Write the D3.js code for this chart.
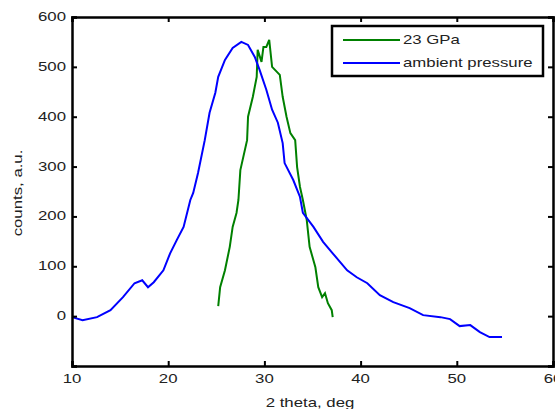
<!DOCTYPE html>
<html><head><meta charset="utf-8">
<script src="https://cdn.jsdelivr.net/npm/d3@7"></script>
<style>body{margin:0;background:#fff}svg{display:block}text{font-family:"Liberation Sans",Arial,sans-serif;fill:#222}</style>
</head><body><svg id="c" width="555" height="409"></svg>
<script>
const xTicks = [10,20,30,40,50,60];
const yTicks = [0,100,200,300,400,500,600];
const seriesNames = ["23 GPa","ambient pressure"];
const ambientX = [10,11.1,12.6,14,15.3,16.5,17.3,17.9,18.5,19.5,20.2,20.9,21.6,22.3,22.6,23.1,23.8,24.3,24.9,25.2,25.9,26.7,27.6,28.3,29.0,29.5,30.2,30.8,31.4,31.9,32.1,33.0,33.7,34.0,35.1,36.1,37.1,38.6,39.6,40.7,42.0,43.4,45.1,46.5,48.3,49.3,50.3,51.4,52.4,53.4,54.7];
const ambientY = [-2,-8,-2,12,38,66,72,58,68,92,126,153,179,233,247,287,353,408,448,480,514,538,550,544,520,494,454,414,388,347,307,273,239,207,179,149,126,92,78,66,42,28,16,2,-2,-6,-20,-18,-32,-42,-42];
const gpaX = [25.2,25.4,25.9,26.4,26.7,27.1,27.3,27.5,28.2,28.3,28.8,29.2,29.3,29.7,29.9,30.2,30.5,30.8,31.3,31.6,31.9,32.3,32.7,33.2,33.4,33.7,34.0,34.4,34.7,35.3,35.6,36.0,36.3,36.6,37.0,37.1];
const gpaY = [20,58,92,139,179,207,233,293,353,400,440,480,534,510,540,540,554,500,490,484,440,400,367,353,299,259,233,193,139,98,58,38,46,26,12,-2];

const L=72,R=553,T=17,B=366, SX=1.4;
const svg=d3.select("#c");
const x=d3.scaleLinear().domain([10,60]).range([L,R]);
const y=d3.scaleLinear().domain([-100,600]).range([B,T]);

function txt(px,py,s,anchor,rot){
  const g=svg.append("g").attr("transform",`translate(${px},${py})`+(rot?` rotate(${rot})`:"")+` scale(${SX},1)`);
  g.append("text").attr("text-anchor",anchor||"start").attr("font-size",12).text(s);
}

// lines
const line=(xs,ys)=>d3.line().x((d,i)=>x(xs[i])).y((d,i)=>y(ys[i]))(xs);
svg.append("path").attr("d",line(gpaX,gpaY)).attr("fill","none").attr("stroke","#008000").attr("stroke-width",2);
svg.append("path").attr("d",line(ambientX,ambientY)).attr("fill","none").attr("stroke","#0000ff").attr("stroke-width",2);

// axes (box with inward ticks)
const ax=svg.append("g");
ax.append("g").attr("transform",`translate(0,${B})`).call(d3.axisBottom(x).tickValues(xTicks).tickSize(-5).tickFormat(""));
ax.append("g").attr("transform",`translate(0,${T})`).call(d3.axisTop(x).tickValues(xTicks).tickSize(-5).tickFormat(""));
ax.append("g").attr("transform",`translate(${L},0)`).call(d3.axisLeft(y).tickValues(yTicks.concat([-100])).tickSize(-5).tickFormat(""));
ax.append("g").attr("transform",`translate(${R},0)`).call(d3.axisRight(y).tickValues(yTicks.concat([-100])).tickSize(-5).tickFormat(""));
ax.selectAll("path.domain").attr("stroke","#000").attr("stroke-width",2.5);
ax.selectAll(".tick line").attr("stroke","#000").attr("stroke-width",2);

xTicks.forEach(v=>txt(x(v),383,String(v),"middle"));
yTicks.forEach(v=>txt(66,y(v)+4,String(v),"end"));
txt(310,407,"2 theta, deg","middle");
txt(22,193,"counts, a.u.","middle",-90);

// legend
svg.append("rect").attr("x",332).attr("y",26).attr("width",211).attr("height",50).attr("fill","#fff").attr("stroke","#000").attr("stroke-width",2.5);
const colors=["#008000","#0000ff"];
seriesNames.forEach((n,i)=>{
  const ly=40+i*23;
  svg.append("line").attr("x1",343).attr("x2",400).attr("y1",ly).attr("y2",ly).attr("stroke",colors[i]).attr("stroke-width",2);
  txt(403,ly+4,n,"start");
});
</script></body></html>
